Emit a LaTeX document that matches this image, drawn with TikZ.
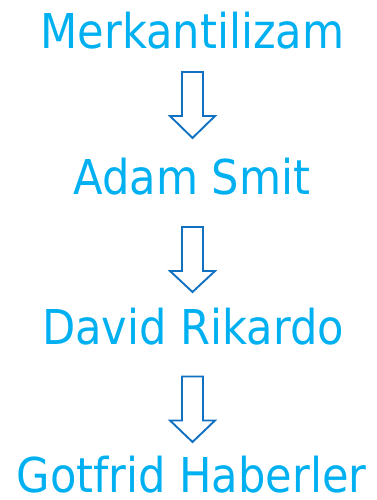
\documentclass[tikz,border=0pt]{standalone}
\usepackage{fontspec}
\setmainfont{DejaVu Sans Condensed}
\usetikzlibrary{calc}
\definecolor{titleblue}{HTML}{00B0F0}
\definecolor{arrowblue}{HTML}{1070C2}
\tikzset{
  stage/.style={anchor=base, inner sep=0pt, text=titleblue, font=\fontsize{48}{48}\selectfont},
  blockarrow/.style={draw=arrowblue, fill=white, line width=1.9pt, line join=miter}
}
% hollow downward block arrow, top centre at #1, head start #2 below, tip #3 below
\newcommand{\downblock}[3]{%
  \draw[blockarrow] ($(#1)+(-10.5,0)$) -- ($(#1)+(10.5,0)$) -- ($(#1)+(10.5,-#2)$)
    -- ($(#1)+(22.5,-#2)$) -- ($(#1)+(0,-#3)$) -- ($(#1)+(-22.5,-#2)$)
    -- ($(#1)+(-10.5,-#2)$) -- cycle;}
\begin{document}
\begin{tikzpicture}[x=1pt,y=1pt]
  \useasboundingbox (0,0) rectangle (376,500);
  \node[stage] (merk) at (192.5,451) {Merkantilizam};
  \node[stage] (smit) at (192,305) {Adam Smit};
  \node[stage] (rik) at (193,155) {David Rikardo};
  \node[stage] (hab) at (191.5,7) {Gotfrid Haberler};
  \coordinate (a1) at (192.5,428);
  \coordinate (a2) at (192.5,273);
  \coordinate (a3) at (192.5,123.5);
  \downblock{a1}{44}{66}
  \downblock{a2}{44}{65}
  \downblock{a3}{44}{65.5}
\end{tikzpicture}
\end{document}
